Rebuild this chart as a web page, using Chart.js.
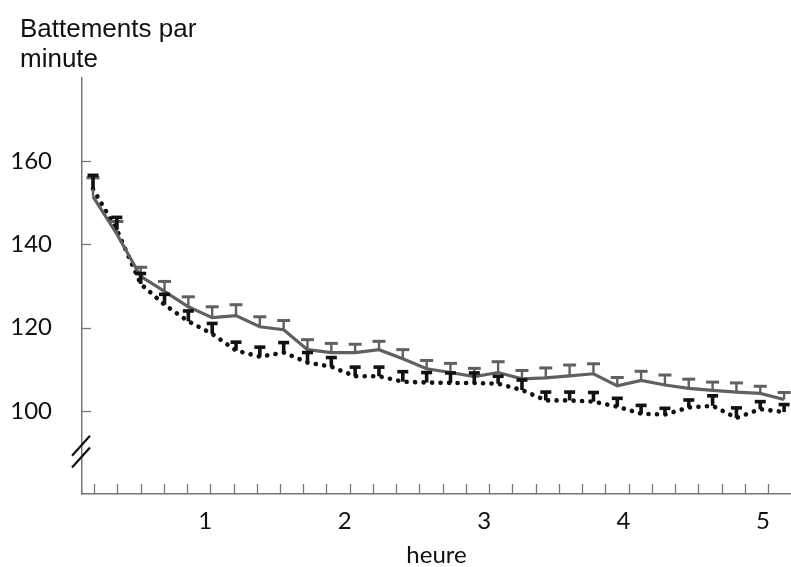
<!DOCTYPE html>
<html>
<head>
<meta charset="utf-8">
<script src="https://cdn.jsdelivr.net/npm/chart.js@4.4.1/dist/chart.umd.min.js"></script>
<style>
    html, body { margin: 0; padding: 0; background: #fff; }
</style>
</head>
<body>
<canvas id="chart" width="791" height="567"></canvas>
<script>
// time of each measurement, in minutes
const minutes = [10, 20, 30, 40, 50, 60, 70, 80, 90, 100, 110, 120, 130, 140, 150,
    160, 170, 180, 190, 200, 210, 220, 230, 240, 250, 260, 270, 280, 290, 300];

// grey solid curve
const solidBpm = [151.5, 142.5, 132.3, 128.7, 125, 122.4, 122.9, 120.2, 119.5, 114.7,
    114, 114, 114.7, 112.5, 110.1, 109.2, 108.2, 109.2, 107.7, 107.9,
    108.4, 108.9, 106, 107.3, 106.2, 105.4, 104.9, 104.5, 104.2, 102.7];
const solidErr = [4.5, 3, 2.2, 2.4, 2.4, 2.6, 2.6, 2.4, 2.2, 2.4,
    2.2, 2, 2, 2.2, 2, 2.2, 2, 2.6, 2, 2.4,
    2.6, 2.4, 2, 2.2, 2.4, 2.2, 2, 2.2, 1.7, 1.7];

// black dotted curve
const dottedBpm = [153.3, 143.5, 130.5, 125.5, 121.5, 118.5, 114.5, 113, 114, 111.6,
    110.6, 108.3, 108.3, 107, 106.8, 106.7, 106.7, 106.5, 105, 102.5,
    102.5, 102.2, 101, 99.3, 99.1, 100.8, 101.2, 98.3, 100.4, 99.7];
const dottedErr = [3.3, 3, 2.5, 2.5, 2.5, 2.5, 2, 2.3, 2.4, 2.4,
    2.2, 2.2, 2.2, 2.4, 2.4, 2.4, 2.4, 1.8, 2.4, 2,
    2, 2.2, 2, 2, 1.5, 1.8, 2.4, 2.4, 1.8, 1.8];

const yTickValues = [100, 120, 140, 160];
const xTickMinutes = [10, 20, 30, 40, 50, 60, 70, 80, 90, 100, 110, 120, 130, 140, 150,
    160, 170, 180, 190, 200, 210, 220, 230, 240, 250, 260, 270, 280, 290, 300];
const titleLines = ['Battements par', 'minute'];
const xTitle = 'heure';

const GREY = '#606060';
const AXIS = '#777777';
const INK = '#111111';

function toPoints(values) {
    return values.map((v, i) => ({ x: minutes[i], y: v }));
}

// T-shaped upper error bars
const errorBars = {
    id: 'errorBars',
    afterDatasetsDraw(chart) {
        const ctx = chart.ctx;
        chart.data.datasets.forEach((ds, di) => {
            const meta = chart.getDatasetMeta(di);
            const xs = chart.scales[meta.xAxisID];
            const ys = chart.scales[meta.yAxisID];
            const err = ds.errors;
            ctx.save();
            ctx.strokeStyle = ds.borderColor;
            ctx.lineCap = 'butt';
            ds.data.forEach((p, i) => {
                const x = xs.getPixelForValue(p.x);
                const y0 = ys.getPixelForValue(p.y);
                const y1 = ys.getPixelForValue(p.y + err[i]);
                ctx.lineWidth = ds.stemWidth;
                ctx.beginPath();
                ctx.moveTo(x, y0);
                ctx.lineTo(x, y1);
                ctx.stroke();
                ctx.lineWidth = ds.capThickness;
                ctx.beginPath();
                ctx.moveTo(x - ds.capHalf, y1);
                ctx.lineTo(x + ds.capHalf, y1);
                ctx.stroke();
            });
            ctx.restore();
        });
    }
};

// inner tick marks, axis break and the y title
const decorations = {
    id: 'decorations',
    afterDraw(chart) {
        const ctx = chart.ctx;
        const area = chart.chartArea;
        const x = chart.scales.x;
        const y = chart.scales.y;
        ctx.save();
        ctx.strokeStyle = AXIS;
        ctx.lineWidth = 1.3;
        yTickValues.forEach(v => {
            const py = Math.round(y.getPixelForValue(v)) + 0.5;
            ctx.beginPath();
            ctx.moveTo(area.left, py);
            ctx.lineTo(area.left + 9, py);
            ctx.stroke();
        });
        xTickMinutes.forEach(m => {
            const px = Math.round(x.getPixelForValue(m)) + 0.5;
            ctx.beginPath();
            ctx.moveTo(px, area.bottom);
            ctx.lineTo(px, area.bottom - 10);
            ctx.stroke();
        });

        // axis break "//"
        ctx.strokeStyle = INK;
        ctx.lineWidth = 2.2;
        [91.6, 88.8].forEach(v => {
            const py = y.getPixelForValue(v);
            ctx.beginPath();
            ctx.moveTo(area.left - 10, py + 10);
            ctx.lineTo(area.left + 8, py - 10);
            ctx.stroke();
        });

        ctx.fillStyle = INK;
        ctx.font = '26px "Liberation Sans", Arial, sans-serif';
        ctx.textAlign = 'left';
        ctx.textBaseline = 'alphabetic';
        titleLines.forEach((line, i) => {
            ctx.fillText(line, 20, 37 + i * 30);
        });
        ctx.restore();
    }
};

const canvas = document.getElementById('chart');
const ctx = canvas.getContext('2d');

new Chart(ctx, {
    type: 'line',
    data: {
        datasets: [{
            data: toPoints(solidBpm),
            errors: solidErr,
            xAxisID: 'xd',
            borderColor: GREY,
            borderWidth: 3.2,
            pointRadius: 0,
            tension: 0,
            fill: false,
            stemWidth: 2.4,
            capThickness: 3,
            capHalf: 6.5
        }, {
            data: toPoints(dottedBpm),
            errors: dottedErr,
            xAxisID: 'xd',
            borderColor: INK,
            borderWidth: 4.6,
            borderDash: [0.1, 8.4],
            borderCapStyle: 'round',
            pointRadius: 0,
            tension: 0,
            fill: false,
            stemWidth: 3.6,
            capThickness: 3.6,
            capHalf: 5.5
        }]
    },
    options: {
        responsive: false,
        animation: false,
        devicePixelRatio: 1,
        layout: { padding: { left: 0, top: 78, right: 0, bottom: 0 } },
        plugins: {
            legend: { display: false },
            tooltip: { enabled: false },
            title: { display: false }
        },
        scales: {
            x: {
                type: 'linear',
                position: 'bottom',
                min: 4.8,
                max: 309.9,
                afterBuildTicks: (s) => { s.ticks = xTickMinutes.map(v => ({ value: v })); },
                afterFit: (s) => { s.height = 73; },
                grid: { display: false, drawTicks: false },
                border: { color: AXIS, width: 1.5 },
                ticks: {
                    autoSkip: false,
                    maxRotation: 0,
                    padding: 13,
                    labelOffset: -5,
                    color: INK,
                    font: { family: 'Lato', size: 24 },
                    callback: (v) => (v % 60 === 0 ? String(v / 60) : '')
                },
                title: {
                    display: true,
                    text: xTitle,
                    color: INK,
                    font: { family: 'Lato', size: 24 },
                    padding: { top: 0, bottom: -3 }
                }
            },
            xd: {
                type: 'linear',
                display: false,
                min: 5.37,
                max: 302.9
            },
            y: {
                type: 'linear',
                min: 80,
                max: 180,
                afterBuildTicks: (s) => { s.ticks = yTickValues.map(v => ({ value: v })); },
                afterFit: (s) => { s.width = 82; },
                grid: { display: false, drawTicks: false },
                border: { color: AXIS, width: 1.5 },
                ticks: {
                    padding: 30,
                    color: INK,
                    font: { family: 'Lato', size: 24 }
                }
            }
        }
    },
    plugins: [errorBars, decorations]
});
</script>
</body>
</html>
